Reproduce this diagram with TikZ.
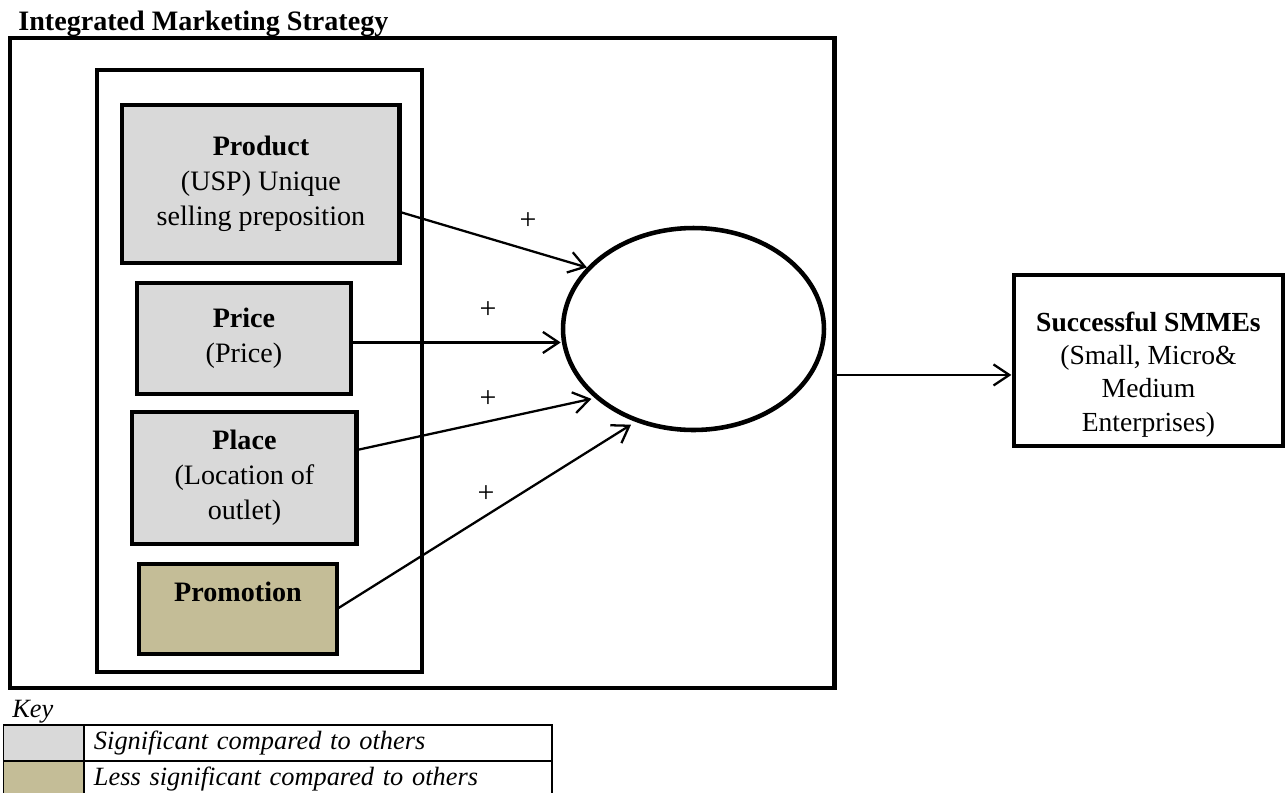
\documentclass[tikz,border=0pt]{standalone}
\usepackage{fontspec}
\setmainfont{Liberation Serif}
\usetikzlibrary{positioning}
\usetikzlibrary{calc}
\usetikzlibrary{shapes.geometric}
\usetikzlibrary{arrows.meta}

\definecolor{sigGrey}{RGB}{217,217,217}
\definecolor{lessTan}{RGB}{196,189,151}

\begin{document}
\begin{tikzpicture}[x=0.02cm,y=-0.02cm]

\tikzstyle{frameBox}=[rectangle,anchor=north west,draw=black,line width=2.7pt,outer sep=0pt,fill=white];
\tikzstyle{mixBox}=[rectangle,anchor=north west,align=center,draw=black,line width=2.8pt,outer sep=0pt,fill=sigGrey,font=\fontsize{16pt}{19.8pt}\selectfont];
\tikzstyle{keyCell}=[rectangle,anchor=north west,draw=black,line width=1.1pt,outer sep=0pt,minimum height=0.72cm,font=\fontsize{15pt}{17pt}\selectfont\itshape];
\tikzstyle{arrowLine}=[line width=1.3pt,-{Straight Barb[length=9pt,width=12pt]}];
\tikzstyle{signLabel}=[inner sep=1pt,font=\fontsize{17pt}{18pt}\selectfont];

\useasboundingbox (0,0) rectangle (1286,792);

\node [anchor=base west,inner sep=0pt,font=\fontsize{16pt}{18pt}\selectfont] (title) at (18,30) {\textbf{Integrated Marketing Strategy}};

% frames
\node [frameBox,minimum width=16.5cm,minimum height=13cm] (outer) at (10,38) {};
\node [frameBox,line width=2.5pt,minimum width=6.5cm,minimum height=12.04cm] (inner) at (97,70) {};

% the four P's
\node [mixBox,minimum width=5.56cm,minimum height=3.16cm] (product) at (122,105) {\textbf{Product}\\(USP) Unique\\selling preposition};
\node [mixBox,minimum width=4.28cm,minimum height=2.22cm] (price) at (137,283) {\textbf{Price}\\(Price)};
\node [mixBox,minimum width=4.5cm,minimum height=2.64cm] (place) at (132,412) {\textbf{Place}\\(Location of\\outlet)};
\node [mixBox,fill=lessTan,minimum width=3.96cm,minimum height=1.8cm] (promotion) at (139,564) {\textbf{Promotion}\\ \mbox{}};

\node [ellipse,draw=black,line width=2.6pt,fill=white,inner sep=0pt,minimum width=5.22cm,minimum height=4.04cm] (oval) at (693.5,329) {};

\draw [arrowLine] ($(product.east)+(0,28)$) -- (oval.150);
\coordinate (priceOut) at ($(price.east)+(0,4)$);
\draw [arrowLine] (priceOut) -- (priceOut -| oval.west);
\draw [arrowLine,shorten >=2pt] ($(place.east)+(0,-28)$) -- (oval.215);
\draw [arrowLine,shorten >=3pt] (promotion.east) -- (oval.238);

\node [signLabel] (plusProduct) at (528,221) {+};
\node [signLabel] (plusPrice) at (488,310) {+};
\node [signLabel] (plusPlace) at (488,399) {+};
\node [signLabel] (plusPromotion) at (486,494) {+};

% outcome
\node [frameBox,minimum width=5.38cm,minimum height=3.42cm] (smme) at (1014,275) {};
\node [align=center,font=\fontsize{15.7pt}{19pt}\selectfont] (smmeText) at ($(smme.center)+(0,14)$) {\textbf{Successful SMMEs}\\(Small, Micro\&\\Medium\\Enterprises)};
\coordinate (outerOut) at ($(outer.east)+(0,12)$);
\draw [arrowLine,shorten >=1.5pt] (outerOut) -- (outerOut -| smme.west);

% key
\node [anchor=base west,inner sep=0pt,font=\fontsize{15pt}{17pt}\selectfont\itshape] (keyTitle) at (12,717) {Key};
\foreach \shade/\txt [count=\r] in {sigGrey/Significant compared to others,lessTan/Less significant compared to others}{
	\node [keyCell,fill=\shade,minimum width=1.61cm] (keySwatch\r) at (3.5,{689+36*\r}) {};
	\node [keyCell,text width=8.96cm,inner xsep=0.2cm,align=left] (keyText\r) at (84,{689+36*\r}) {\txt};
};

\end{tikzpicture}
\end{document}
